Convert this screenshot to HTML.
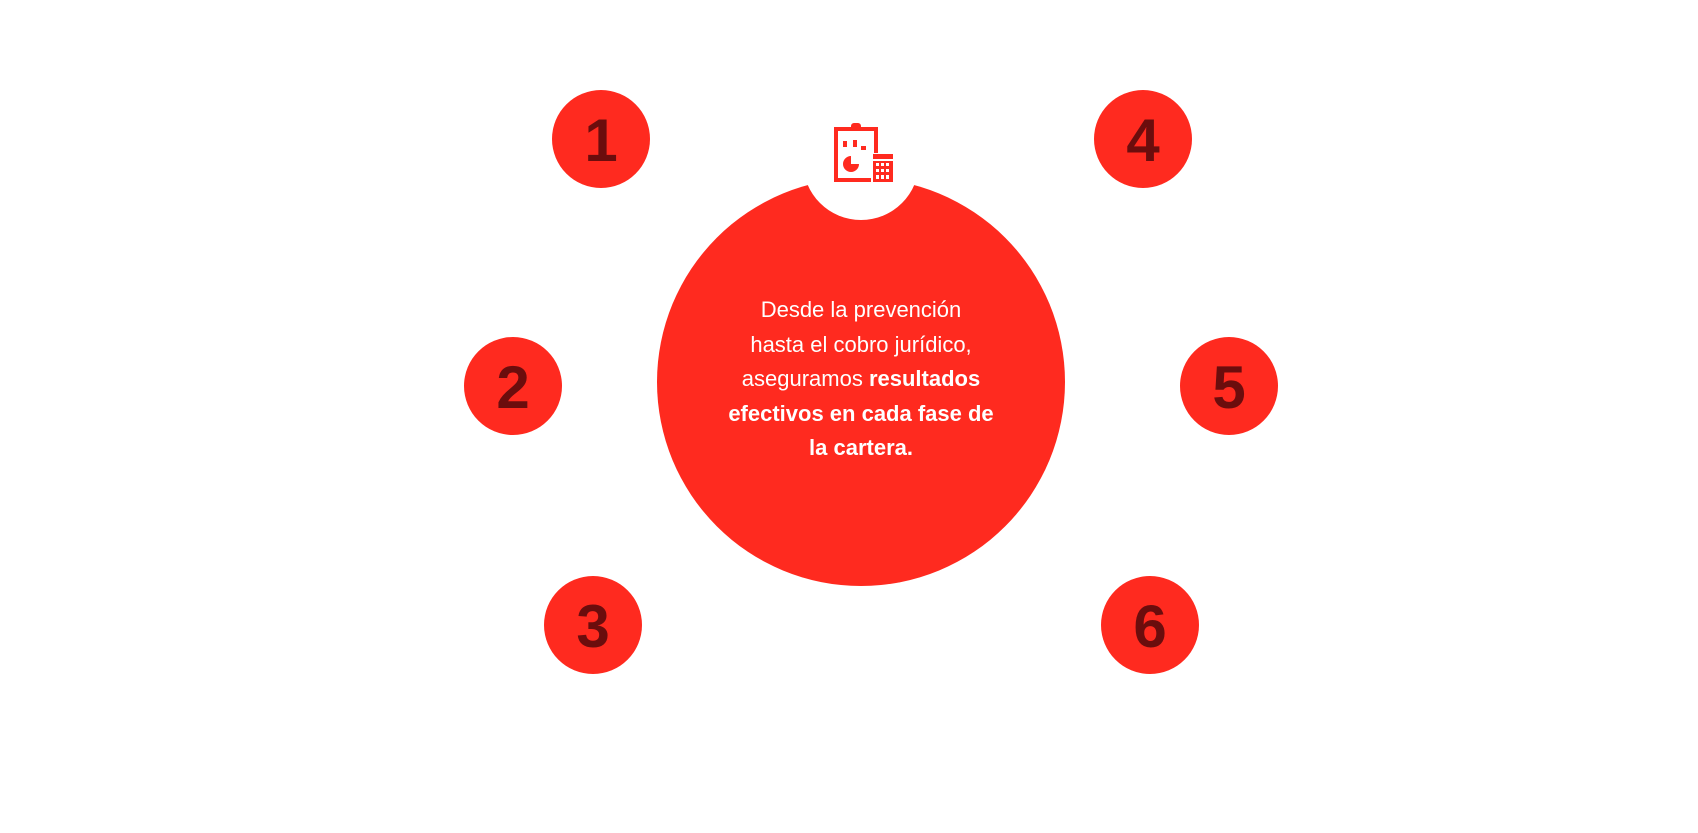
<!DOCTYPE html>
<html><head><meta charset="utf-8"><style>
html,body{margin:0;padding:0;background:#fff;width:1698px;height:833px;overflow:hidden}
.c{position:absolute;width:98px;height:98px;border-radius:50%;background:#ff2a1f;color:#6b0d0d;font:bold 60px "Liberation Sans",sans-serif;display:flex;align-items:center;justify-content:center;padding-top:3px;box-sizing:border-box}
.t{position:absolute;left:661px;width:400px;top:293px;text-align:center;color:#fff;font:22px/34.6px "Liberation Sans",sans-serif}
</style></head><body>
<svg width="1698" height="833" style="position:absolute;left:0;top:0">
<circle cx="861" cy="382" r="204" fill="#ff2a1f"/>
<circle cx="861" cy="162" r="58" fill="#fff"/>
<g fill="none" stroke="#ff2a1f" stroke-width="4">
<rect x="836" y="129" width="40" height="51"/>
</g>
<rect x="851" y="123" width="10" height="7" rx="3" fill="#ff2a1f"/>
<rect x="843" y="141" width="4" height="6" fill="#ff2a1f"/>
<rect x="853" y="140" width="4" height="7" fill="#ff2a1f"/>
<rect x="861" y="146" width="5" height="4" fill="#ff2a1f"/>
<path d="M851 156 a8 8 0 1 0 8 8 h-8z" fill="#ff2a1f"/>
<rect x="871" y="153" width="23" height="30" fill="#fff"/>
<rect x="873" y="154" width="20" height="28" fill="#ff2a1f"/>
<g fill="#fff">
<rect x="876" y="163" width="3" height="3"/><rect x="881" y="163" width="3" height="3"/><rect x="886" y="163" width="3" height="3"/>
<rect x="876" y="169" width="3" height="3"/><rect x="881" y="169" width="3" height="3"/><rect x="886" y="169" width="3" height="3"/>
<rect x="876" y="175" width="3" height="4"/><rect x="881" y="175" width="3" height="4"/><rect x="886" y="175" width="3" height="4"/>
<rect x="873" y="159" width="20" height="2"/>
</g>
</svg>
<div class="c" style="left:552px;top:90px">1</div>
<div class="c" style="left:464px;top:337px">2</div>
<div class="c" style="left:544px;top:576px">3</div>
<div class="c" style="left:1094px;top:90px">4</div>
<div class="c" style="left:1180px;top:337px">5</div>
<div class="c" style="left:1101px;top:576px">6</div>
<div class="t">Desde la prevención<br>hasta el cobro jurídico,<br>aseguramos <b>resultados</b><br><b>efectivos en cada fase de</b><br><b>la cartera.</b></div>
</body></html>
